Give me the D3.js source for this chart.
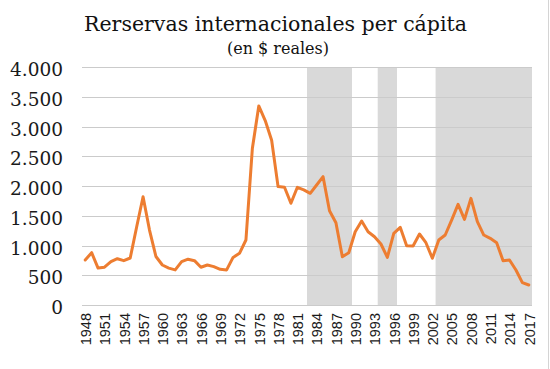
<!DOCTYPE html>
<html>
<head>
<meta charset="utf-8">
<script src="https://cdn.jsdelivr.net/npm/d3@7"></script>
<style>
  html, body { margin: 0; padding: 0; background: #ffffff; }
  svg { display: block; }
</style>
</head>
<body>
<svg id="chart" width="550" height="369"></svg>
<script>
const years = d3.range(1948, 2018);
const reservas = [
  756, 879, 620, 635, 728, 778, 745, 790, 1310, 1820,
  1260, 815, 672, 620, 590, 728, 770, 745, 635, 672,
  645, 600, 590, 800, 868, 1092, 2630, 3345, 3100, 2770,
  1990, 1978, 1710, 1978, 1935, 1877, 2017, 2157, 1585, 1383,
  812, 879, 1232, 1412, 1232, 1148, 1025, 801, 1205, 1306,
  997, 992, 1193, 1047, 785, 1092, 1176, 1428, 1692, 1440,
  1793, 1400, 1176, 1120, 1047, 745, 756, 588, 375, 336
];
const shadedPeriods = [[1983, 1989], [1994, 1996], [2003, 2017]];
const yTicks = [0, 500, 1000, 1500, 2000, 2500, 3000, 3500, 4000];
const yTickLabels = ["0", "500", "1.000", "1.500", "2.000", "2.500", "3.000", "3.500", "4.000"];
const xTickYears = d3.range(1948, 2018, 3);
const titleText = "Rerservas internacionales per cápita";
const subtitleText = "(en $ reales)";

const svg = d3.select("#chart");
const margin = { left: 82, right: 532, top: 67, bottom: 305 };

const x = d3.scaleBand().domain(years).range([margin.left, margin.right]).padding(0);
const y = d3.scaleLinear().domain([0, 4000]).range([margin.bottom, margin.top]);

// right edge artifact line
svg.append("line")
  .attr("x1", 548.5).attr("x2", 548.5).attr("y1", 0).attr("y2", 369)
  .attr("stroke", "#d4d4d4").attr("stroke-width", 1);

// shaded periods
svg.append("g").selectAll("rect")
  .data(shadedPeriods)
  .join("rect")
  .attr("x", d => x(d[0]))
  .attr("width", d => x(d[1]) + x.bandwidth() - x(d[0]))
  .attr("y", y(4000))
  .attr("height", y(0) - y(4000))
  .attr("fill", "#d9d9d9");

// gridlines
svg.append("g").selectAll("line")
  .data(yTicks)
  .join("line")
  .attr("x1", margin.left).attr("x2", margin.right)
  .attr("y1", d => Math.round(y(d)) + 0.5)
  .attr("y2", d => Math.round(y(d)) + 0.5)
  .attr("stroke", "#cbcbcb").attr("stroke-width", 1);

// y axis labels
svg.append("g").selectAll("text")
  .data(yTicks)
  .join("text")
  .attr("x", 63)
  .attr("y", d => y(d) + 9)
  .attr("text-anchor", "end")
  .attr("font-family", "DejaVu Serif")
  .attr("font-size", 18.5)
  .attr("fill", "#1a1a1a")
  .text((d, i) => yTickLabels[i]);

// x axis labels
svg.append("g").selectAll("text")
  .data(xTickYears)
  .join("text")
  .attr("transform", d => `translate(${x(d) + x.bandwidth() / 2 + 0.5},313) rotate(-90)`)
  .attr("text-anchor", "end")
  .attr("dy", "0.36em")
  .attr("font-family", "Liberation Sans")
  .attr("font-size", 14.5)
  .attr("fill", "#1a1a1a")
  .text(d => String(d));

// line
const line = d3.line()
  .x((d, i) => x(years[i]) + x.bandwidth() / 2)
  .y(d => y(d));

svg.append("path")
  .datum(reservas)
  .attr("d", line)
  .attr("fill", "none")
  .attr("stroke", "#ED7D31")
  .attr("stroke-width", 3)
  .attr("stroke-linejoin", "round")
  .attr("stroke-linecap", "round");

// titles
svg.append("text")
  .attr("x", 275.5).attr("y", 31)
  .attr("text-anchor", "middle")
  .attr("font-family", "DejaVu Serif")
  .attr("font-size", 20.5)
  .attr("fill", "#111")
  .text(titleText);

svg.append("text")
  .attr("x", 278).attr("y", 54)
  .attr("text-anchor", "middle")
  .attr("font-family", "DejaVu Serif")
  .attr("font-size", 16)
  .attr("fill", "#111")
  .text(subtitleText);
</script>
</body>
</html>
